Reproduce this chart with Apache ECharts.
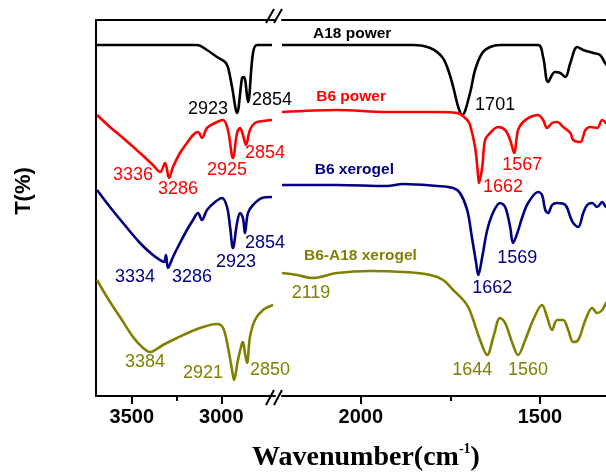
<!DOCTYPE html>
<html>
<head>
<meta charset="utf-8">
<script src="https://cdn.jsdelivr.net/npm/echarts@6/dist/echarts.min.js"></script>
<style>html,body{margin:0;padding:0;background:#fff}#c{width:606px;height:472px}</style>
</head>
<body>
<div id="c"></div>
<script>
// FTIR spectra: [wavenumber (cm-1), transmittance (offset, arbitrary units)]
var a18PowerHigh = [[3700,351],[3136,351],[3080,346],[3024,339],[2979,334],[2963,329],[2940,309],[2912,283],[2884,318],[2873,319],[2851,294],[2823,343],[2800,351],[2717,351]];
var a18PowerLow = [[2220,351],[1854,351],[1806,348],[1773,339],[1756,326],[1742,309],[1728,289],[1717,281],[1695,303],[1681,326],[1661,343],[1639,349],[1611,351],[1505,351],[1491,339],[1477,314],[1458,324],[1443,323],[1429,319],[1415,333],[1396,349],[1379,346],[1351,343],[1332,341],[1318,333],[1300,325]];

var b6PowerHigh = [[3694,281],[3622,269],[3549,258],[3454,243],[3382,231],[3342,224],[3314,233],[3292,218],[3270,229],[3231,243],[3192,253],[3158,261],[3130,264],[3108,258],[3080,268],[3024,274],[2990,276],[2963,266],[2935,238],[2912,263],[2895,268],[2879,261],[2862,251],[2840,266],[2812,273],[2767,275],[2717,276]];
var b6PowerLow = [[2220,284],[2066,286],[1927,284],[1787,284],[1731,283],[1703,276],[1695,271],[1681,249],[1672,219],[1670,213],[1661,229],[1653,256],[1639,263],[1617,269],[1597,266],[1583,256],[1572,243],[1561,266],[1547,274],[1527,279],[1505,281],[1491,276],[1480,268],[1466,273],[1452,274],[1435,269],[1415,263],[1407,256],[1387,254],[1373,266],[1359,269],[1340,268],[1326,276],[1315,273],[1300,270]];

var b6XerogelHigh = [[3694,206],[3622,189],[3549,173],[3454,153],[3382,141],[3342,136],[3320,134],[3309,141],[3298,128],[3270,139],[3231,153],[3192,166],[3158,176],[3130,183],[3108,176],[3080,186],[3035,194],[2996,198],[2968,189],[2951,169],[2935,148],[2912,173],[2895,183],[2879,178],[2868,163],[2851,183],[2823,191],[2773,198],[2717,199]];
var b6XerogelLow = [[2220,211],[2066,211],[1927,210],[1882,212],[1787,210],[1742,208],[1723,203],[1703,186],[1690,159],[1678,133],[1672,121],[1661,139],[1647,166],[1630,184],[1611,193],[1597,189],[1583,169],[1575,153],[1563,163],[1549,179],[1533,193],[1505,204],[1494,201],[1485,186],[1477,183],[1466,191],[1452,193],[1429,191],[1415,179],[1407,173],[1393,169],[1379,183],[1368,191],[1354,193],[1340,189],[1326,194],[1315,189],[1300,192]];

var b6a18XerogelHigh = [[3694,116],[3639,99],[3566,79],[3493,59],[3437,48],[3398,44],[3326,51],[3247,58],[3175,64],[3102,69],[3024,72],[2990,68],[2963,49],[2940,26],[2929,16],[2907,36],[2884,53],[2879,54],[2868,43],[2856,33],[2840,59],[2812,76],[2767,86],[2711,91]];
var b6a18XerogelLow = [[2220,123],[2178,121],[2136,118],[2066,123],[1974,125],[1882,124],[1806,121],[1770,116],[1742,106],[1714,96],[1700,89],[1686,76],[1667,56],[1647,41],[1630,59],[1611,78],[1597,73],[1577,53],[1561,41],[1541,56],[1519,76],[1494,91],[1480,79],[1466,66],[1452,76],[1435,76],[1421,66],[1407,54],[1393,56],[1373,76],[1354,88],[1340,83],[1326,86],[1315,93],[1300,98]];

var seriesNames = ['A18 power', 'B6 power', 'B6 xerogel', 'B6-A18 xerogel'];
var seriesColors = ['#000000', '#ff0000', '#000080', '#808000'];
// where each name sits, [wavenumber, T]
var nameAnchors = [[2024,362],[2027,299],[2018,226],[2001,140]];

// peak annotations: [wavenumber, T, text]
var peaksHigh = [
  [[3074,287,'2923'],[2717,296,'2854']],
  [[3493,221,'3336'],[3242,207,'3286'],[2968,226,'2925'],[2756,243,'2854']],
  [[3482,119,'3334'],[3164,119,'3286'],[2918,134,'2923'],[2756,153,'2854']],
  [[3426,34,'3384'],[3102,23,'2921'],[2728,26,'2850']]
];
var peaksLow = [
  [[1625,291,'1701']],
  [[1549,231,'1567'],[1603,209,'1662']],
  [[1563,138,'1569'],[1633,108,'1662']],
  [[2139,103,'2119'],[1689,26,'1644'],[1533,26,'1560']]
];

var ticksHighMajor = [3500, 3000];
var ticksHighMinor = [3250];
var ticksLowMajor = [2000, 1500];
var ticksLowMinor = [1750];

var highData = [a18PowerHigh, b6PowerHigh, b6XerogelHigh, b6a18XerogelHigh];
var lowData = [a18PowerLow, b6PowerLow, b6XerogelLow, b6a18XerogelLow];

var chart = echarts.init(document.getElementById('c'), null, {renderer: 'canvas'});
var lineW = 2;
var axisFont = {fontFamily: 'Liberation Sans, Arial, sans-serif', fontWeight: 'bold', fontSize: 20, color: '#000'};

function mainAxis(gi, min, max, majors, pos) {
  return {
    type: 'value', gridIndex: gi, inverse: true, min: min, max: max, position: pos || 'bottom',
    axisLine: {show: true, onZero: false, lineStyle: {color: '#000', width: lineW}},
    axisTick: {show: !pos, customValues: majors, length: 8, lineStyle: {color: '#000', width: lineW}},
    axisLabel: Object.assign({show: !pos, customValues: majors, margin: 11,
      formatter: function (v) { return String(v); }}, axisFont),
    splitLine: {show: false}
  };
}
function minorAxis(gi, min, max, minors) {
  return {
    type: 'value', gridIndex: gi, inverse: true, min: min, max: max, position: 'bottom',
    axisLine: {show: false, onZero: false},
    axisTick: {show: true, customValues: minors, length: 5, lineStyle: {color: '#000', width: lineW}},
    axisLabel: {show: false},
    splitLine: {show: false}
  };
}

var hiddenItem = {color: 'rgba(0,0,0,0)', opacity: 1};
var series = [];
for (var i = 0; i < 4; i++) {
  series.push({type: 'line', xAxisIndex: 0, yAxisIndex: 0, data: highData[i], showSymbol: false, smooth: 0.35,
    lineStyle: {color: seriesColors[i], width: 2.6}, itemStyle: {color: seriesColors[i]}, silent: true});
  series.push({type: 'line', xAxisIndex: 3, yAxisIndex: 1, data: lowData[i], showSymbol: false, smooth: 0.35,
    lineStyle: {color: seriesColors[i], width: 2.6}, itemStyle: {color: seriesColors[i]}, silent: true});
  var lab = {show: true, position: 'inside', formatter: function (p) { return p.data[2]; },
    color: seriesColors[i], opacity: 1, textBorderWidth: 0, fontFamily: 'Liberation Sans, Arial, sans-serif', fontSize: 18};
  series.push({type: 'scatter', xAxisIndex: 0, yAxisIndex: 0, data: peaksHigh[i], symbolSize: 1,
    itemStyle: hiddenItem, label: lab, silent: true, clip: false});
  series.push({type: 'scatter', xAxisIndex: 3, yAxisIndex: 1, data: peaksLow[i], symbolSize: 1,
    itemStyle: hiddenItem, label: lab, silent: true, clip: false});
  series.push({type: 'scatter', xAxisIndex: 3, yAxisIndex: 1,
    data: [[nameAnchors[i][0], nameAnchors[i][1], seriesNames[i]]], symbolSize: 1,
    itemStyle: hiddenItem,
    label: {show: true, position: 'inside', formatter: function (p) { return p.data[2]; },
      color: seriesColors[i], opacity: 1, textBorderWidth: 0, fontFamily: 'Liberation Sans, Arial, sans-serif', fontWeight: 'bold', fontSize: 15.5},
    silent: true, clip: false});
}

var option = {
  animation: false,
  backgroundColor: '#fff',
  grid: [
    {left: 96, top: 20, width: 179, height: 376, outerBoundsMode: 'none', containLabel: false},
    {left: 282, top: 20, width: 437, height: 376, outerBoundsMode: 'none', containLabel: false}
  ],
  xAxis: [
    mainAxis(0, 2700, 3700, ticksHighMajor),
    minorAxis(0, 2700, 3700, ticksHighMinor),
    mainAxis(0, 2700, 3700, [], 'top'),
    mainAxis(1, 1000, 2220, ticksLowMajor),
    minorAxis(1, 1000, 2220, ticksLowMinor),
    mainAxis(1, 1000, 2220, [], 'top')
  ],
  yAxis: [
    {type: 'value', gridIndex: 0, min: 0, max: 376, axisLine: {show: true, lineStyle: {color: '#000', width: lineW}},
      axisTick: {show: false}, axisLabel: {show: false}, splitLine: {show: false}},
    {type: 'value', gridIndex: 1, min: 0, max: 376, show: false, splitLine: {show: false}}
  ],
  series: series,
  graphic: [
    {type: 'text', x: 24, y: 191, rotation: Math.PI / 2, style: {text: 'T(%)', fill: '#000',
      font: 'bold 22px "Liberation Sans", Arial, sans-serif', textAlign: 'center', textVerticalAlign: 'middle'}},
    {type: 'text', x: 366, y: 457, style: {
      text: '{a|Wavenumber(cm}{b|-1}{a|)}', textAlign: 'center', textVerticalAlign: 'middle',
      rich: {
        a: {fontFamily: '"Liberation Serif", "Times New Roman", serif', fontWeight: 'bold', fontSize: 28, fill: '#000', lineHeight: 30, verticalAlign: 'bottom'},
        b: {fontFamily: '"Liberation Serif", "Times New Roman", serif', fontWeight: 'bold', fontSize: 14, fill: '#000', lineHeight: 30, verticalAlign: 'top'}
      }}},
    {type: 'line', shape: {x1: 266, y1: 23, x2: 274, y2: 9}, style: {stroke: '#000', lineWidth: 2}},
    {type: 'line', shape: {x1: 274, y1: 23, x2: 282, y2: 9}, style: {stroke: '#000', lineWidth: 2}},
    {type: 'line', shape: {x1: 266, y1: 405, x2: 274, y2: 390}, style: {stroke: '#000', lineWidth: 2}},
    {type: 'line', shape: {x1: 274, y1: 405, x2: 282, y2: 390}, style: {stroke: '#000', lineWidth: 2}}
  ]
};
chart.setOption(option);
</script>
</body>
</html>
